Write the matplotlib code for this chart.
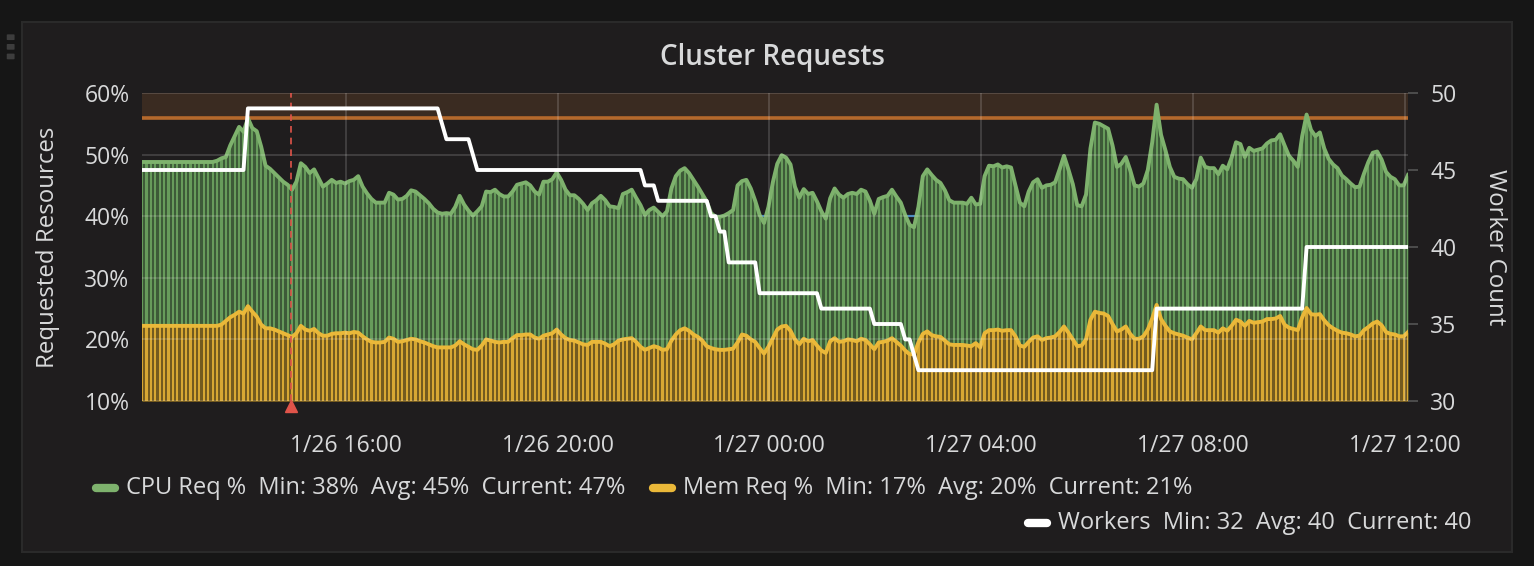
import numpy as np
import pandas as pd
import matplotlib
matplotlib.use('Agg')
import matplotlib.pyplot as plt
from matplotlib.lines import Line2D
from matplotlib.patches import Rectangle, FancyBboxPatch

# 5 minute samples, 1/26 12:09 -> 1/27 12:04
start_time = '2018-01-26 12:09'

cpu_req = [
    48.8, 48.8, 48.8, 48.8, 48.8, 48.8, 48.8, 48.8, 48.8, 48.8,
    48.8, 48.8, 48.8, 48.8, 48.8, 48.8, 48.8, 49.0, 49.4, 49.6,
    51.5, 53.0, 54.5, 53.7, 55.9, 54.3, 53.8, 51.3, 48.2, 47.7,
    47.0, 46.3, 45.6, 45.1, 44.3, 45.6, 48.6, 48.0, 47.0, 47.6,
    46.2, 44.8, 45.3, 45.9, 45.4, 45.6, 45.3, 45.7, 45.9, 46.5,
    44.8, 43.7, 42.8, 42.2, 42.2, 42.2, 43.8, 43.5, 42.7, 42.8,
    43.3, 44.2, 44.0, 43.4, 42.8, 42.1, 41.2, 40.6, 40.4, 40.5,
    40.4, 41.5, 43.3, 41.9, 40.9, 40.1, 40.8, 41.6, 44.0, 43.9,
    44.3, 43.6, 43.2, 43.2, 44.0, 45.1, 45.3, 45.5, 45.0, 44.0,
    43.5, 45.6, 45.6, 46.0, 47.1, 45.9, 44.3, 43.4, 43.4, 42.8,
    42.0, 41.0, 42.1, 42.6, 43.3, 42.6, 41.6, 41.5, 41.3, 43.6,
    43.9, 44.3, 43.0, 41.8, 40.2, 41.0, 41.4, 40.7, 40.0, 40.8,
    44.5, 46.5, 47.4, 47.8, 47.0, 45.9, 44.8, 43.6, 42.4, 40.5,
    39.9, 39.9, 40.1, 40.5, 41.0, 45.0, 45.7, 45.9, 44.5, 42.5,
    40.2, 38.9, 41.5, 45.5, 48.5, 49.9, 49.5, 48.4, 44.8, 43.0,
    44.4, 43.6, 43.8, 42.4, 40.8, 39.6, 42.9, 44.5, 43.5, 43.0,
    43.6, 43.8, 43.6, 44.3, 44.0, 42.5, 40.4, 42.8, 43.1, 43.3,
    44.3, 43.2, 42.2, 40.2, 38.6, 38.2, 41.5, 46.5, 47.6, 46.7,
    45.9, 45.4, 44.2, 42.6, 42.2, 42.2, 42.2, 42.0, 43.0, 41.9,
    42.0, 46.5, 48.2, 48.1, 48.4, 47.9, 48.1, 47.9, 45.0, 42.2,
    41.6, 44.0, 45.5, 46.0, 44.6, 45.0, 45.1, 45.5, 47.6, 49.8,
    47.6, 45.2, 41.8, 41.6, 43.5, 51.0, 55.2, 55.0, 54.6, 54.2,
    51.5, 48.0, 48.5, 49.6, 47.5, 45.0, 44.8, 45.3, 47.5, 52.0,
    58.1, 53.2, 50.7, 48.0, 46.4, 46.1, 46.0, 45.2, 44.6, 46.0,
    49.5, 48.0, 47.8, 47.8, 46.8, 48.2, 47.6, 49.5, 52.0, 51.7,
    49.6, 51.1, 50.6, 50.8, 51.0, 51.8, 52.3, 52.4, 53.3, 51.5,
    49.8, 49.0, 48.0, 53.0, 56.5, 54.0, 53.0, 53.6, 51.0, 49.3,
    48.4, 47.8, 46.6, 46.0, 45.3, 44.7, 44.8, 46.9, 48.8, 50.3,
    50.5, 49.2, 47.2, 46.4, 46.0, 45.0, 45.0, 46.7,
]

mem_req = [
    22.2, 22.2, 22.2, 22.2, 22.2, 22.2, 22.2, 22.2, 22.2, 22.2,
    22.2, 22.2, 22.2, 22.2, 22.2, 22.2, 22.2, 22.2, 22.4, 23.0,
    23.6, 24.0, 24.5, 24.2, 25.4, 24.5, 23.7, 22.4, 21.8, 21.8,
    21.6, 21.3, 21.0, 20.7, 20.4, 21.0, 22.2, 21.6, 21.4, 21.7,
    21.0, 20.6, 20.6, 20.9, 21.0, 21.0, 21.1, 21.0, 21.2, 21.1,
    20.5, 20.0, 19.6, 19.5, 19.5, 19.6, 20.3, 20.1, 19.6, 19.7,
    19.9, 20.1, 20.0, 19.7, 19.5, 19.2, 18.9, 18.7, 18.7, 18.7,
    18.7, 19.0, 19.7, 19.2, 18.8, 18.4, 18.3, 19.0, 20.0, 19.8,
    19.6, 19.5, 19.6, 19.6, 20.2, 20.7, 20.7, 20.8, 20.8, 20.3,
    20.1, 20.6, 20.8, 21.0, 21.6, 20.8, 20.2, 19.9, 19.8, 19.5,
    19.2, 19.1, 19.6, 19.6, 19.6, 19.3, 18.9, 19.2, 19.8, 20.0,
    20.1, 20.2, 19.6, 18.8, 18.3, 18.6, 18.9, 18.7, 18.3, 18.4,
    19.8, 20.8, 21.5, 21.8, 21.4, 20.8, 20.4, 19.8, 18.9, 18.6,
    18.4, 18.3, 18.3, 18.4, 18.5, 19.5, 20.8, 20.6, 20.0, 19.6,
    18.6, 17.7, 18.8, 20.2, 21.6, 22.1, 22.2, 21.4, 20.0, 19.2,
    20.1, 19.7, 19.9, 19.0, 18.2, 17.8, 19.7, 20.2, 19.6, 19.7,
    20.0, 19.9, 19.7, 20.1, 19.9, 19.2, 18.4, 19.5, 19.6, 19.8,
    20.2, 19.6, 19.0, 18.2, 17.6, 17.6, 19.5, 20.9, 21.3, 20.7,
    20.5, 20.4, 19.8, 19.2, 19.1, 19.1, 19.1, 19.0, 18.9, 19.4,
    18.7, 21.0, 21.5, 21.5, 21.6, 21.4, 21.5, 21.5, 20.5, 19.0,
    18.8, 19.6, 20.3, 20.5, 19.9, 20.2, 20.3, 20.5, 21.2, 22.1,
    21.1, 20.0, 18.9, 19.0, 20.0, 23.2, 24.5, 24.3, 24.2, 23.8,
    22.5, 21.3, 21.6, 22.1, 20.9, 20.1, 20.1, 20.5, 21.6, 23.4,
    25.6, 23.3, 22.2, 21.3, 21.0, 20.8, 20.6, 20.3, 20.0, 21.0,
    22.1, 21.5, 21.5, 21.5, 21.1, 21.8, 21.4, 22.2, 23.2, 22.9,
    22.2, 23.0, 22.7, 22.8, 22.9, 23.3, 23.3, 23.4, 23.8, 22.4,
    21.9, 21.7, 21.5, 23.6, 25.1, 24.1, 24.0, 24.1, 23.1, 22.3,
    21.8, 21.4, 21.1, 21.0, 20.8, 20.5, 20.6, 21.5, 22.0, 22.6,
    22.9, 22.3, 21.2, 20.9, 20.8, 20.5, 20.5, 21.2,
]

# worker count as runs of equal samples
worker_levels = [45, 49, 48, 47, 46, 45, 44, 43, 42, 41, 39, 37, 36, 35, 34, 33, 32, 36, 40]
worker_runs = [24, 44, 1, 6, 1, 38, 3, 12, 2, 2, 7, 14, 12, 7, 2, 1, 54, 34, 24]

tick_times = ['2018-01-26 16:00', '2018-01-26 20:00', '2018-01-27 00:00',
              '2018-01-27 04:00', '2018-01-27 08:00', '2018-01-27 12:00']
tick_labels = ['1/26 16:00', '1/26 20:00', '1/27 00:00', '1/27 04:00', '1/27 08:00', '1/27 12:00']
annotation_time = '2018-01-26 14:58'

thresh_warn = 56
thresh_low = 40

legend_rows = [
    ('CPU Req %  Min: 38%  Avg: 45%  Current: 47%', '#7eb26d'),
    ('Mem Req %  Min: 17%  Avg: 20%  Current: 21%', '#eab839'),
    ('Workers  Min: 32  Avg: 40  Current: 40', '#ffffff'),
]

txt = '#d8d9da'
plt.rcParams['font.family'] = ['Open Sans', 'DejaVu Sans']

t = pd.date_range(start_time, periods=len(cpu_req), freq='5min')
workers = np.repeat(worker_levels, worker_runs)
step = pd.Timedelta('5min')

fig = plt.figure(figsize=(15.34, 5.66), dpi=100, facecolor='#161616')
# panel background, kept under the axes
fig.patches.append(Rectangle((0.0143, 0.0247), 0.9713, 0.9364, transform=fig.transFigure,
                             facecolor='#1f1d1e', edgecolor='#2a2a2a', lw=1.5, zorder=-10))
for yy in [0.93, 0.913, 0.896]:
    fig.patches.append(FancyBboxPatch((0.0052, yy), 0.0035, 0.0085, boxstyle='round,pad=0.0008',
                                      transform=fig.transFigure, facecolor='#3d3d3d',
                                      edgecolor='none', zorder=-9))

ax = fig.add_axes([0.0926, 0.2915, 0.8253, 0.5442])
ax.set_facecolor('#1f1d1e')

# thresholds
ax.axhspan(thresh_warn, 60, color='#3a2b21', lw=0, zorder=0)
ax.axhline(thresh_warn, color='#b5692c', lw=2.6, zorder=0.5)
ax.axhline(thresh_low, color='#2f78b8', lw=1.6, zorder=0.5)

# cpu bars
ax.fill_between(t, cpu_req, 0, color='#3d5a38', lw=0, zorder=1)
ax.bar(t, cpu_req, width=step * 0.5, color='#679b5b', lw=0, zorder=1.1)
ax.plot(t, cpu_req, color='#7eb26d', lw=2.8, zorder=1.5, solid_joinstyle='round')
# mem bars
ax.fill_between(t, mem_req, 0, color='#735a1f', lw=0, zorder=1.6)
ax.bar(t, mem_req, width=step * 0.5, color='#d7a733', lw=0, zorder=1.7)
ax.plot(t, mem_req, color='#eab839', lw=2.8, zorder=1.8, solid_joinstyle='round')

ax.set_ylim(10, 60)
ax.set_xlim(t[0], t[-1])
ax.set_yticks([10, 20, 30, 40, 50, 60])
ax.set_yticklabels(['10%', '20%', '30%', '40%', '50%', '60%'])
ax.set_xticks(pd.to_datetime(tick_times))
ax.set_xticklabels(tick_labels)
ax.grid(True, color='white', alpha=0.16, lw=1.3)
ax.set_axisbelow(False)
ax.tick_params(axis='x', length=0, pad=24, labelsize=16.5, colors=txt)
ax.tick_params(axis='y', length=0, pad=9, labelsize=16.5, colors=txt)
for s in ax.spines.values():
    s.set_visible(False)

# annotation marker
at = pd.Timestamp(annotation_time)
ax.axvline(at, color='#e0544a', lw=1.2, ls=(0, (4, 3)), zorder=3)
ax.plot([at], [9.2], marker='^', color='#e0544a', ms=9, clip_on=False, zorder=5)

ax2 = ax.twinx()
ax2.plot(t, workers, color='white', lw=2.8, zorder=3)
ax2.set_ylim(30, 50)
ax2.set_yticks([30, 35, 40, 45, 50])
ax2.tick_params(axis='y', length=7, width=1.2, color='#555555', pad=9, labelsize=16.5, labelcolor=txt)
for s in ax2.spines.values():
    s.set_visible(False)

fig.text(0.5033, 0.899, 'Cluster Requests', ha='center', va='center', fontsize=20,
         fontweight='semibold', color=txt)
fig.text(0.0313, 0.5636, 'Requested Resources', rotation=90, ha='center', va='center',
         fontsize=17.3, color=txt)
fig.text(0.9746, 0.5636, 'Worker Count', rotation=270, ha='center', va='center',
         fontsize=17.3, color=txt)

# legend
leg_pos = [(0.0606, 0.1378), (0.4237, 0.1378), (0.668, 0.076)]
for (label, col), (lx, ly) in zip(legend_rows, leg_pos):
    fig.add_artist(Line2D([lx + 0.002, lx + 0.0145], [ly, ly], transform=fig.transFigure,
                          color=col, lw=6, solid_capstyle='round'))
    fig.text(lx + 0.0215, ly, label, ha='left', va='center', fontsize=17, color=txt)

fig.savefig('out.png', dpi=100, facecolor=fig.get_facecolor())
